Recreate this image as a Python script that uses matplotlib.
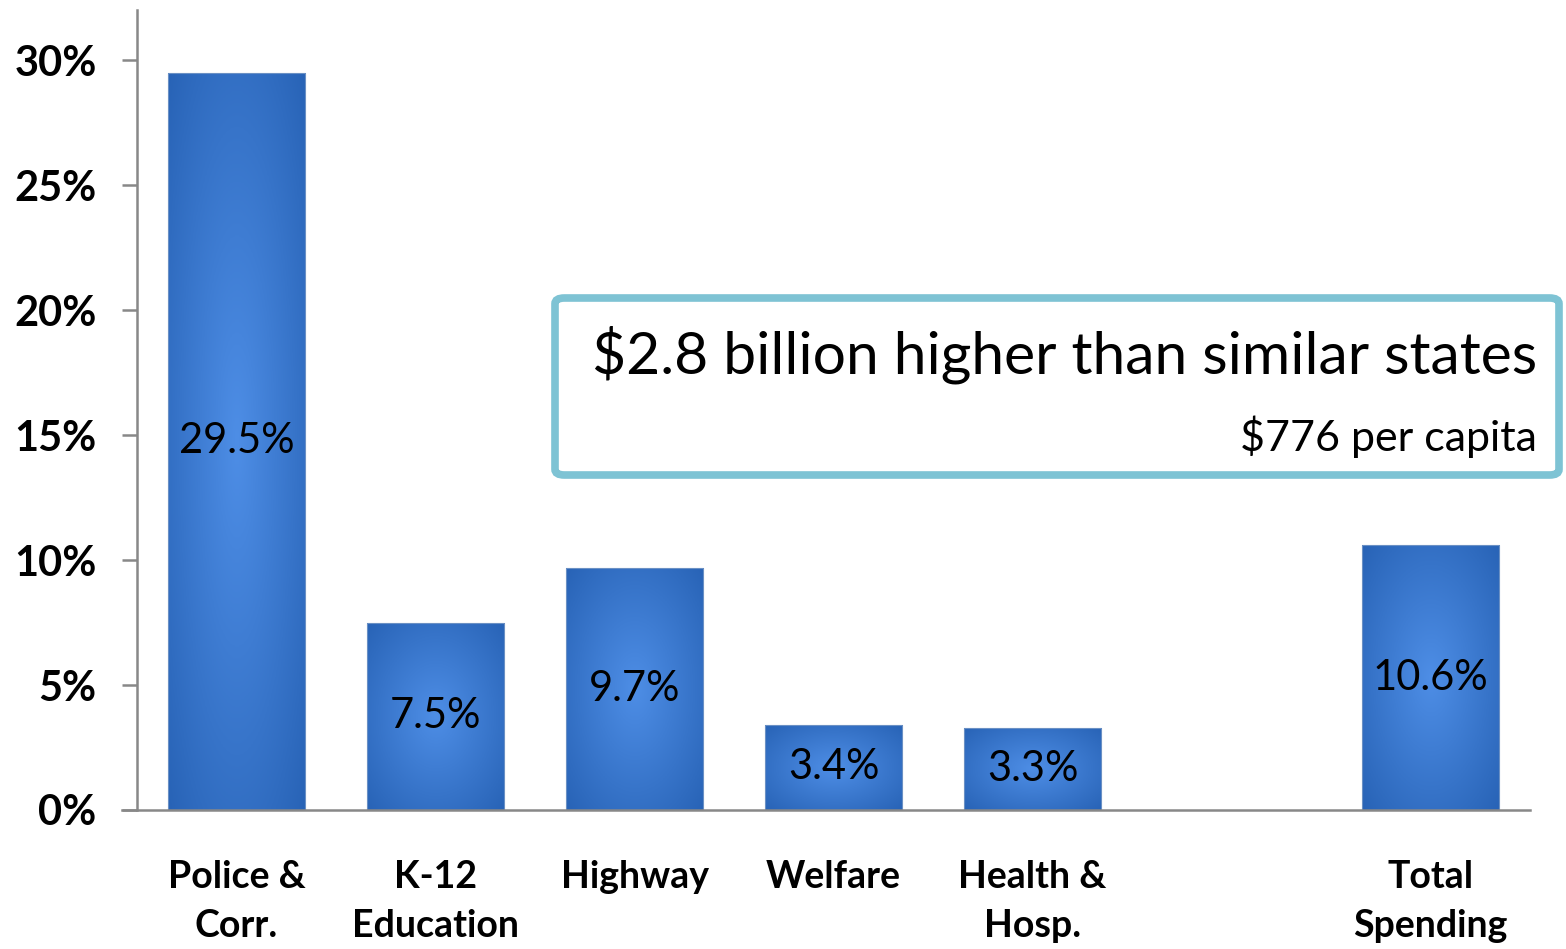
import matplotlib.pyplot as plt
import numpy as np
from matplotlib.patches import FancyBboxPatch

plt.rcParams["font.family"] = ["Lato", "DejaVu Sans"]

# Data
categories = ["Police &\nCorr.", "K-12\nEducation", "Highway", "Welfare",
              "Health &\nHosp.", "Total\nSpending"]
positions = [0, 1, 2, 3, 4, 6]
values = [29.5, 7.5, 9.7, 3.4, 3.3, 10.6]
value_labels = ["29.5%", "7.5%", "9.7%", "3.4%", "3.3%", "10.6%"]
y_ticks = [0, 5, 10, 15, 20, 25, 30]
headline = "$2.8 billion higher than similar states"
subline = "$776 per capita"

fig = plt.figure(figsize=(15.66, 9.49), dpi=100)
ax = fig.add_axes([0.0875, 0.1465, 0.977 - 0.0875, 0.989 - 0.1465])

# radial gradient used to fill each bar
nx, ny = 60, 200
gx, gy = np.meshgrid(np.linspace(-1, 1, nx), np.linspace(-1, 1, ny))
r = np.clip(np.sqrt(gx ** 2 + gy ** 2) / np.sqrt(2), 0, 1)
c_center = np.array([0x4e, 0x8e, 0xe6]) / 255
c_edge = np.array([0x28, 0x63, 0xb6]) / 255
grad = c_center[None, None, :] * (1 - r[..., None]) + c_edge[None, None, :] * r[..., None]

width = 0.69
bars = ax.bar(positions, values, width=width, color="none",
              edgecolor="#6a90c4", linewidth=0.8, zorder=3)
for bar in bars:
    x0 = bar.get_x()
    h = bar.get_height()
    im = ax.imshow(grad, extent=(x0, x0 + width, 0, h), aspect="auto",
                   origin="lower", zorder=2)
    im.set_clip_path(bar)

for p, v, lab in zip(positions, values, value_labels):
    ax.text(p, v / 2, lab, ha="center", va="center", fontsize=30,
            color="black", zorder=4)

ax.set_xlim(-0.5, 6.5)
ax.set_ylim(0, 32)

ax.set_yticks(y_ticks)
ax.set_yticklabels([f"{t}%" for t in y_ticks], fontsize=30, fontweight="bold")
ax.tick_params(axis="y", length=11, width=1.8, color="#888888", pad=18)

ax.set_xticks(positions)
ax.set_xticklabels(categories, fontsize=27, fontweight="bold", linespacing=1.55,
                   va="top")
ax.tick_params(axis="x", length=0, pad=36)

for s in ["top", "right", "bottom"]:
    ax.spines[s].set_visible(False)
ax.spines["left"].set_color("#888888")
ax.spines["left"].set_linewidth(1.8)

# baseline extends left past the y axis, like the tick marks
ax.plot([-0.575, 6.5], [0, 0], color="#888888", lw=1.8, clip_on=False, zorder=5)

# callout box
box = FancyBboxPatch((555 / 1566, 1 - 475 / 949), (1559 - 555) / 1566,
                     (475 - 298) / 949, boxstyle="round,pad=0,rounding_size=0.006",
                     transform=fig.transFigure, facecolor="white",
                     edgecolor="#7ec3d4", linewidth=5.5, zorder=10)
fig.patches.append(box)
fig.text(1537 / 1566, 1 - 355 / 949, headline, ha="right", va="center",
         fontsize=42.3, zorder=11)
fig.text(1537 / 1566, 1 - 437 / 949, subline, ha="right", va="center",
         fontsize=31, zorder=11)

fig.savefig("out.png", dpi=100)
